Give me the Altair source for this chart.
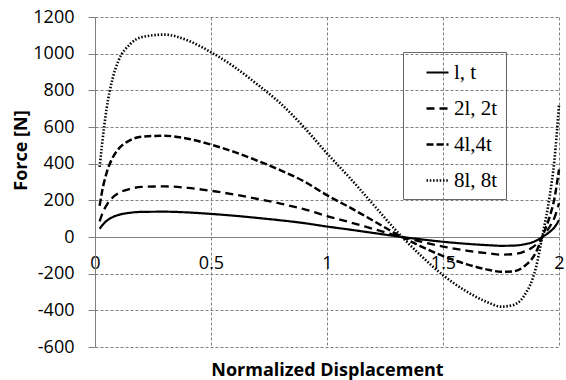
import altair as alt
import pandas as pd

# ---- data ----
x_vals = [0.02, 0.03, 0.05, 0.075, 0.1, 0.15, 0.2, 0.3, 0.4, 0.5, 0.6, 0.7, 0.8, 0.9,
          1.0, 1.1, 1.2, 1.3, 1.4, 1.5, 1.6, 1.7, 1.75, 1.8, 1.85, 1.9, 1.93, 1.96, 1.98, 2.0]

s_1 = [45, 62, 88, 108, 120, 132, 137, 138, 134, 126, 116, 104, 91, 76,
       57, 40, 22, 4, -12, -26, -37, -45, -48, -47, -40, -21, 2, 28, 52, 92]
s_2 = [85, 122, 174, 214, 238, 262, 273, 276, 268, 252, 232, 208, 182, 152,
       114, 80, 44, 8, -24, -52, -74, -90, -96, -94, -80, -42, 4, 56, 104, 184]
s_4 = [170, 245, 350, 430, 478, 527, 547, 552, 536, 504, 464, 416, 364, 304,
       228, 160, 88, 16, -48, -104, -148, -180, -190, -188, -160, -85, 8, 112, 208, 368]
s_8 = [382, 500, 700, 860, 958, 1050, 1090, 1104, 1072, 1008, 928, 832, 728, 600,
       456, 320, 176, 32, -96, -208, -296, -360, -380, -372, -320, -170, 16, 224, 416, 720]

series_names = ["l, t", "2l, 2t", "4l,4t", "8l, 8t"]
x_ticks = [0, 0.5, 1, 1.5, 2]
y_ticks = [-600, -400, -200, 0, 200, 400, 600, 800, 1000, 1200]

rows = []
for name, vals in zip(series_names, [s_1, s_2, s_4, s_8]):
    for xv, yv in zip(x_vals, vals):
        rows.append({"x": xv, "y": yv, "series": name})
df = pd.DataFrame(rows)

dash_range = [[1, 0], [8, 5], [7, 3], [1.5, 1.8]]
width_range = [2.2, 2.6, 2.6, 1.6]

FONT = "Open Sans"
GRID = "#808080"

lines = alt.Chart(df).mark_line(color="black", interpolate="monotone", strokeCap="butt").encode(
    x=alt.X("x:Q",
            scale=alt.Scale(domain=[0, 2], nice=False, zero=False),
            axis=alt.Axis(values=x_ticks, format="~g", offset=-110, grid=True,
                          gridDash=[3, 2], gridColor=GRID, gridOpacity=1,
                          domainColor=GRID, ticks=False, labelPadding=17,
                          labelFlush=False, labelFont=FONT, labelFontSize=18,
                          labelColor="black", title="Normalized Displacement",
                          titleFont=FONT, titleFontSize=18, titleFontWeight="bold",
                          titleColor="black", titleBaseline="alphabetic", titleY=138)),
    y=alt.Y("y:Q",
            scale=alt.Scale(domain=[-600, 1200], nice=False, zero=False),
            axis=alt.Axis(values=y_ticks, labelExpr="'' + datum.value", grid=True,
                          gridDash=[3, 2], gridColor=GRID, gridOpacity=1,
                          domainColor=GRID, tickColor=GRID, tickSize=7,
                          labelPadding=14, labelFont=FONT, labelFontSize=18,
                          labelColor="black", title="Force [N]", titleFont=FONT,
                          titleFontSize=18, titleFontWeight="bold", titleColor="black",
                          titleAngle=270, titleBaseline="alphabetic", titleAlign="center",
                          titleX=-69, titleY=133)),
    strokeDash=alt.StrokeDash("series:N",
                              scale=alt.Scale(domain=series_names, range=dash_range),
                              legend=alt.Legend(title=None, orient="none", legendX=308,
                                                legendY=35, strokeColor="#666666",
                                                padding=8, symbolType="stroke",
                                                symbolSize=484, symbolStrokeColor="black",
                                                symbolStrokeWidth=2.2, symbolOffset=14,
                                                labelFont="Liberation Serif",
                                                labelFontSize=21, labelColor="black",
                                                rowPadding=13, labelOffset=4)),
    strokeWidth=alt.StrokeWidth("series:O",
                                scale=alt.Scale(domain=series_names, range=width_range),
                                legend=None),
)

chart = lines.properties(
    width=464, height=330,
    autosize=alt.AutoSizeParams(type="none"),
    padding={"left": 95, "top": 17, "right": 7, "bottom": 33},
    background="white",
).configure_view(stroke=None)

chart.save("out.html", embed_options={"renderer": "svg", "actions": False})
